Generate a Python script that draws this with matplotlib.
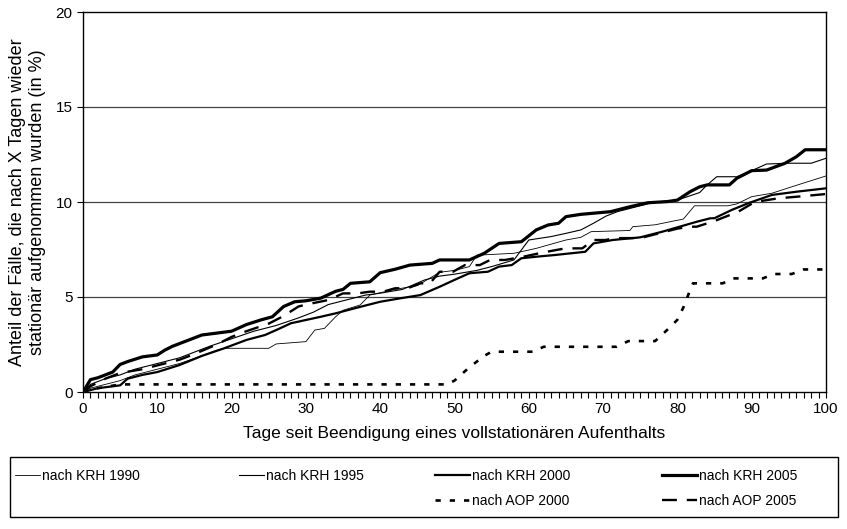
import matplotlib
matplotlib.use("Agg")
import matplotlib.pyplot as plt
from matplotlib.lines import Line2D
from matplotlib.patches import Rectangle
from matplotlib.ticker import MultipleLocator

plt.rcParams['font.family'] = ['Liberation Sans', 'DejaVu Sans']

# --- data (days since discharge, cumulative share readmitted in %) ---
krh1990_days = [0, 1, 3, 5, 7, 10, 13, 16, 18, 19, 25, 26, 30, 31.2, 32.5, 34, 35, 37.3, 38.6, 42, 45, 48, 50,
                52, 53, 58, 61, 65, 67, 68.4, 73.6, 74, 77, 79.5, 80.8, 82.3, 86.8, 88, 90, 92.7, 95.4, 97, 100]
krh1990_vals = [0, 0.2, 0.4, 0.6, 0.9, 1.2, 1.5, 1.9, 2.2, 2.3, 2.3, 2.53, 2.65, 3.26, 3.35, 3.96, 4.3, 4.58, 5.1, 5.4, 5.6, 6.3, 6.4,
                6.6, 7.2, 7.3, 7.56, 8.0, 8.14, 8.44, 8.5, 8.7, 8.8, 9.0, 9.1, 9.8, 9.8, 9.9, 10.28, 10.46, 10.8, 11.0, 11.37]

krh1995_days = [0, 1, 3, 5, 7, 10, 13, 15, 17, 20, 23, 26, 29, 31, 33, 35, 38, 40, 43, 46, 48, 50, 53, 55, 58,
                60, 63, 65, 67, 68.7, 70.4, 72, 75, 77, 80, 83, 84, 85.3, 88, 90, 92, 95, 98, 100]
krh1995_vals = [0, 0.4, 0.7, 0.9, 1.2, 1.5, 1.8, 2.1, 2.4, 2.8, 3.2, 3.5, 3.9, 4.2, 4.6, 4.8, 5.1, 5.2, 5.4, 5.9, 6.1, 6.2, 6.4, 6.6, 6.95,
                8.0, 8.18, 8.35, 8.53, 8.88, 9.26, 9.5, 9.8, 10.0, 10.1, 10.5, 10.9, 11.33, 11.33, 11.65, 12.0, 12.04, 12.04, 12.3]

krh2000_days = [0, 2, 5, 6, 8, 10, 13, 16, 19, 22, 24.5, 26, 28, 30, 32, 34, 37, 40, 43, 45.4, 48, 50, 52, 54.5, 56,
                57.7, 59, 61, 63.5, 67.6, 68.7, 71.3, 75, 78, 80.3, 82.6, 84.4, 85, 87.3, 89.5, 92.7, 96, 100]
krh2000_vals = [0, 0.2, 0.35, 0.7, 0.9, 1.05, 1.42, 1.9, 2.3, 2.74, 3.0, 3.26, 3.62, 3.79, 3.96, 4.14, 4.45, 4.75, 4.95, 5.1, 5.54, 5.9, 6.25, 6.33, 6.6,
                6.68, 7.04, 7.12, 7.21, 7.38, 7.82, 8.0, 8.14, 8.44, 8.7, 8.96, 9.14, 9.15, 9.58, 9.93, 10.37, 10.54, 10.72]

krh2005_days = [0, 1, 2, 3, 4, 5, 6, 8, 10, 11, 12, 14, 16, 18, 20, 22, 24, 25.5, 27, 28.5, 30, 32, 34, 35, 36, 38.6,
                40, 42, 44, 47, 48, 52, 54, 56, 59, 61, 62.6, 64, 65, 67, 71, 73.6, 76, 78.6, 80, 81.7, 83, 84, 87, 88,
                90, 92, 94.5, 96, 97.2, 100]
krh2005_vals = [0, 0.65, 0.75, 0.9, 1.05, 1.45, 1.6, 1.85, 1.95, 2.2, 2.4, 2.7, 3.0, 3.1, 3.2, 3.55, 3.8, 3.96, 4.5, 4.75, 4.8, 4.94, 5.3, 5.4, 5.72, 5.8,
                6.28, 6.46, 6.68, 6.77, 6.95, 6.95, 7.3, 7.82, 7.91, 8.53, 8.79, 8.88, 9.23, 9.35, 9.49, 9.75, 9.96, 10.02, 10.1, 10.54, 10.8, 10.9, 10.9, 11.25,
                11.65, 11.68, 12.04, 12.38, 12.75, 12.75]

aop2000_days = [0, 2, 5, 49, 50, 52, 54, 55, 60.6, 62, 71.8, 73.4, 77, 78.6, 80, 80.8, 81.5, 82.1, 86.1, 87.5, 91.5, 93, 95.4, 97, 100]
aop2000_vals = [0, 0.2, 0.4, 0.4, 0.6, 1.3, 1.9, 2.12, 2.12, 2.38, 2.38, 2.68, 2.68, 3.26, 3.8, 4.45, 5.15, 5.72, 5.72, 5.98, 5.98, 6.21, 6.21, 6.45, 6.45]

aop2005_days = [0, 1, 3, 5, 8, 10, 13, 15, 18, 20, 22, 25, 27, 29, 30, 33, 35, 37, 38.6, 40.4, 42, 43.7, 45.4, 46.7, 48, 49.8,
                51.4, 53.4, 54.8, 56.8, 59, 62, 64.9, 67.2, 68.7, 70.3, 71.6, 75, 78, 80, 81.7, 82.6, 85, 88.2, 90.4, 93.5, 96.7, 100]
aop2005_vals = [0, 0.3, 0.7, 1.0, 1.2, 1.4, 1.7, 2.0, 2.5, 2.9, 3.2, 3.6, 4.0, 4.5, 4.6, 4.84, 5.19, 5.19, 5.28, 5.28, 5.46, 5.46, 5.72, 5.72, 6.33, 6.33,
                6.68, 6.68, 6.95, 6.95, 7.1, 7.35, 7.56, 7.56, 8.0, 8.0, 8.1, 8.1, 8.4, 8.6, 8.7, 8.7, 9.0, 9.49, 10.0, 10.19, 10.3, 10.42]

labels = ["nach KRH 1990", "nach KRH 1995", "nach KRH 2000", "nach KRH 2005", "nach AOP 2000", "nach AOP 2005"]
x_ticks = [0, 10, 20, 30, 40, 50, 60, 70, 80, 90, 100]
y_ticks = [0, 5, 10, 15, 20]

W, H = 847, 529
fig = plt.figure(figsize=(W / 100, H / 100), dpi=100)
ax = fig.add_axes([83 / W, 1 - 392 / H, (826 - 83) / W, (392 - 12) / H])

for g in [5, 10, 15]:
    ax.axhline(g, color='#404040', lw=0.9, zorder=1)

h1, = ax.plot(krh1990_days, krh1990_vals, color='black', lw=0.6, label=labels[0], zorder=3)
h2, = ax.plot(krh1995_days, krh1995_vals, color='black', lw=0.8, label=labels[1], zorder=3)
h3, = ax.plot(krh2000_days, krh2000_vals, color='black', lw=1.6, label=labels[2], zorder=4)
h4, = ax.plot(krh2005_days, krh2005_vals, color='black', lw=2.3, label=labels[3], zorder=4)
h5, = ax.plot(aop2000_days, aop2000_vals, color='black', lw=1.9, dashes=(2.0, 3.4), label=labels[4], zorder=4)
h6, = ax.plot(aop2005_days, aop2005_vals, color='black', lw=1.7, dashes=(6.3, 4.2), label=labels[5], zorder=4)

ax.set_xlim(0, 100)
ax.set_ylim(0, 20)
ax.set_xticks(x_ticks)
ax.set_yticks(y_ticks)
ax.xaxis.set_minor_locator(MultipleLocator(1))
ax.tick_params(axis='both', which='major', direction='out', length=4, width=0.8, labelsize=11, colors='black')
ax.tick_params(axis='x', which='minor', direction='out', length=4, width=0.8)
for s in ax.spines.values():
    s.set_linewidth(1.0)
    s.set_color('black')

ax.set_xlabel("Tage seit Beendigung eines vollstationären Aufenthalts", fontsize=12.5, labelpad=7)
ax.set_ylabel("Anteil der Fälle, die nach X Tagen wieder\nstationär aufgenommen wurden (in %)", fontsize=13, labelpad=7)

# legend frame
fig.add_artist(Rectangle((10 / W, 1 - 517 / H), (838 - 10) / W, (517 - 457) / H,
                         transform=fig.transFigure, fill=False, edgecolor='black', lw=1.0))

common = dict(ncol=2, loc='upper left', fontsize=10, frameon=False, borderpad=0, borderaxespad=0,
              handletextpad=0.15, labelspacing=0.8)
legA = fig.legend([h1, h2], [labels[0], labels[1]], bbox_to_anchor=(15 / W, 1 - 469 / H),
                  handlelength=1.8, columnspacing=7.1, **common)
legB = fig.legend([h3, h5, h4, h6], [labels[2], labels[4], labels[3], labels[5]],
                  bbox_to_anchor=(435 / W, 1 - 469 / H),
                  handlelength=2.5, columnspacing=6.6, **common)

fig.savefig("out.png", dpi=100)
